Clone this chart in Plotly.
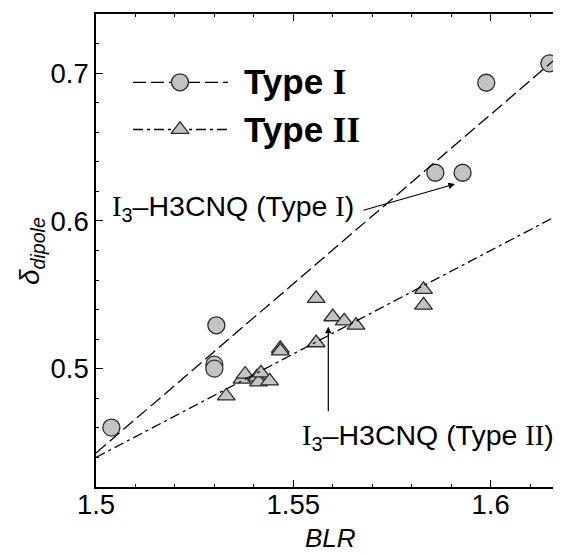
import numpy as np
import plotly.graph_objects as go

# ---------------- data ----------------
type1_blr = [1.5039, 1.5305, 1.5300, 1.5300, 1.5860, 1.5929, 1.5989, 1.6149]
type1_dipole = [0.4602, 0.5294, 0.5028, 0.5001, 0.6326, 0.6326, 0.6935, 0.7066]

type2_blr = [1.5330, 1.5370, 1.5378, 1.5408, 1.5412, 1.5418, 1.5440, 1.5467,
             1.5467, 1.5558, 1.5558, 1.5600, 1.5629, 1.5659, 1.5830, 1.5830]
type2_dipole = [0.4816, 0.4929, 0.4963, 0.4944, 0.4911, 0.4971, 0.4917, 0.5137,
                0.5120, 0.5175, 0.5475, 0.5351, 0.5323, 0.5294, 0.5536, 0.5430]

# linear fits: delta = fit_at_x0 + slope * (BLR - fit_x0)
fit_x0 = 1.5
fit_at_x0 = [0.443, 0.440]
fit_slope = [2.29, 1.40]

x_tickvals = [1.5, 1.55, 1.6]
x_ticktext = ["1.5", "1.55", "1.6"]
y_tickvals = [0.5, 0.6, 0.7]
y_ticktext = ["0.5", "0.6", "0.7"]

x_range = [1.5, 1.61784]
y_range = [0.42, 0.74]

SANS = "Liberation Sans"
SERIF = "Liberation Serif"
FILL = "#c3c3c3"
EDGE = "#2a2a2a"

# page offset of the figure (default body margin of the html page)
OFF = 8
PL, PT, PW, PH = 96 - OFF, 14 - OFF, 465, 473   # plot area in figure pixels


def paper_x(page_px):
    return (page_px - OFF - PL) / PW


def paper_y(page_py):
    return (PT + PH - (page_py - OFF)) / PH


fig = go.Figure()

circle_marker = dict(symbol="circle", size=17, color=FILL, line=dict(color=EDGE, width=1.3))
tri_marker = dict(symbol="triangle-up", size=15.5, color=FILL, line=dict(color=EDGE, width=1.3))

fig.add_trace(go.Scatter(x=type2_blr, y=type2_dipole, mode="markers", marker=tri_marker,
                         showlegend=False))
fig.add_trace(go.Scatter(x=type1_blr, y=type1_dipole, mode="markers", marker=circle_marker,
                         showlegend=False))

dash1 = "13px,5px"
dash2 = "10px,4px,3px,4px"
fx = np.array(x_range)
for a, s, d in zip(fit_at_x0, fit_slope, [dash1, dash2]):
    fig.add_trace(go.Scatter(x=fx, y=a + s * (fx - fit_x0), mode="lines",
                             line=dict(color="black", width=1.3, dash=d),
                             showlegend=False, hoverinfo="skip"))

# ---- manual legend on pixel overlay axes (page pixel coordinates) ----
leg_x = [133, 228]
leg_mid = 180
leg_rows = [82.3, 129.5]
for yrow, d, mk in zip(leg_rows, [dash1, dash2], [circle_marker, tri_marker]):
    fig.add_trace(go.Scatter(x=leg_x, y=[yrow, yrow], xaxis="x2", yaxis="y2", mode="lines",
                             line=dict(color="black", width=1.3, dash=d), showlegend=False,
                             hoverinfo="skip"))
    fig.add_trace(go.Scatter(x=[leg_mid], y=[yrow], xaxis="x2", yaxis="y2", mode="markers",
                             marker=mk, showlegend=False, hoverinfo="skip"))


def serif(t):
    return f'<span style="font-family:{SERIF}">{t}</span>'


annotations = [
    dict(x=242, y=82, xref="x2", yref="y2", xanchor="left", yanchor="middle", showarrow=False,
         text="<b>Type " + serif("I") + "</b>", font=dict(family=SANS, size=35, color="black")),
    dict(x=242, y=130, xref="x2", yref="y2", xanchor="left", yanchor="middle", showarrow=False,
         text="<b>Type " + serif("II") + "</b>", font=dict(family=SANS, size=35, color="black")),
    # annotation texts
    dict(x=110, y=208, xref="x2", yref="y2", xanchor="left", yanchor="middle", showarrow=False,
         text=serif("I") + "<sub>3</sub>–H3CNQ (Type " + serif("I") + ")",
         font=dict(family=SANS, size=28.5, color="black")),
    dict(x=300, y=437, xref="x2", yref="y2", xanchor="left", yanchor="middle", showarrow=False,
         text=serif("I") + "<sub>3</sub>–H3CNQ (Type " + serif("II") + ")",
         font=dict(family=SANS, size=28.5, color="black")),
    # arrows
    dict(x=455, y=184, ax=362, ay=210.7, xref="x2", yref="y2", axref="x2", ayref="y2",
         text="", showarrow=True, arrowhead=2, arrowsize=1.1, arrowwidth=1.2, arrowcolor="black"),
    dict(x=328.3, y=326.7, ax=328.3, ay=412.7, xref="x2", yref="y2", axref="x2", ayref="y2",
         text="", showarrow=True, arrowhead=2, arrowsize=1.1, arrowwidth=1.2, arrowcolor="black"),
    # axis titles (paper coordinates)
    dict(x=paper_x(330), y=paper_y(538), xref="paper", yref="paper", xanchor="center",
         yanchor="middle", showarrow=False,
         text="<i>BLR</i>", font=dict(family=SANS, size=26, color="black")),
    dict(x=paper_x(31), y=paper_y(251), xref="paper", yref="paper", xanchor="center",
         yanchor="middle", showarrow=False,
         textangle=-90, text="<i>δ<sub>dipole</sub></i>",
         font=dict(family=SANS, size=28, color="black")),
]

axis_common = dict(showgrid=False, zeroline=False, showline=True, linecolor="black",
                   linewidth=1.5, ticks="inside", ticklen=7, tickwidth=1.2, tickcolor="black",
                   tickfont=dict(family=SANS, size=27.5, color="black"), tickmode="array")

fig.update_layout(
    width=561 - OFF, height=555 - OFF,
    margin=dict(l=PL, r=0, t=PT, b=555 - OFF - PT - PH, pad=0),
    paper_bgcolor="white", plot_bgcolor="white",
    showlegend=False,
    xaxis=dict(range=x_range, tickvals=x_tickvals, ticktext=x_ticktext, mirror="ticks",
               ticklabelstandoff=-8,
               minor=dict(ticks="inside", ticklen=3.5, tickwidth=1.1, tickcolor="black",
                          tickmode="linear", tick0=1.5, dtick=0.01),
               **axis_common),
    yaxis=dict(range=y_range, tickvals=y_tickvals, ticktext=y_ticktext, mirror=False,
               minor=dict(ticks="inside", ticklen=3.5, tickwidth=1.1, tickcolor="black",
                          tickmode="linear", tick0=0.42, dtick=0.02),
               **axis_common),
    xaxis2=dict(range=[96, 561], overlaying="x", visible=False, fixedrange=True),
    yaxis2=dict(range=[487, 14], overlaying="y", visible=False, fixedrange=True),
    annotations=annotations,
)

fig.write_html("out.html")
